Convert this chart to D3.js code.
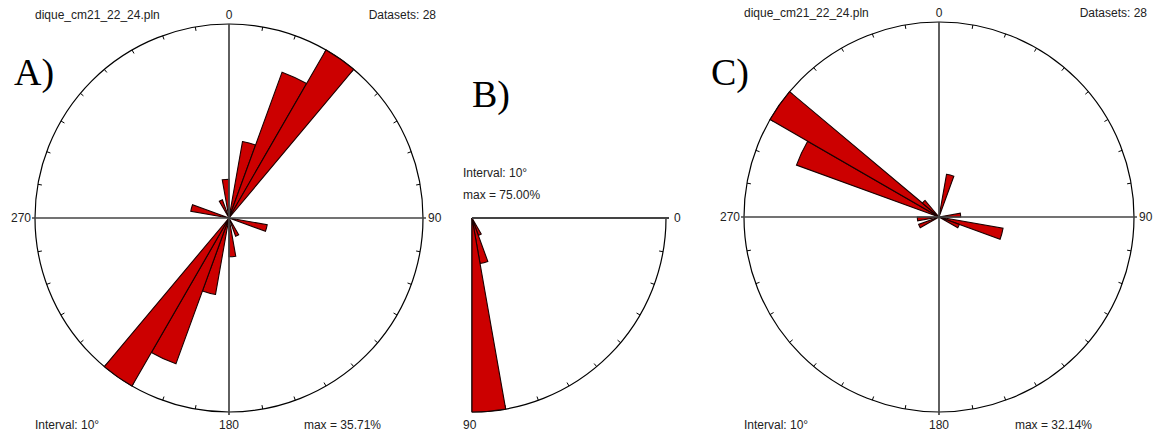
<!DOCTYPE html>
<html>
<head>
<meta charset="utf-8">
<script src="https://cdn.jsdelivr.net/npm/d3@7"></script>
<style>
  html, body { margin: 0; padding: 0; background: #fff; }
  svg { display: block; }
  .small { font-family: "Liberation Sans", Arial, sans-serif; font-size: 12px; fill: #222; }
  .big { font-family: "Liberation Serif", "Times New Roman", serif; font-size: 38px; fill: #000; }
</style>
</head>
<body>
<script>
// Rose diagrams of dyke orientations (10° sectors, 28 measurements)
const fileName = "dique_cm21_22_24.pln";
const nDatasets = 28;
const sectorWidth = 10;

// Strike rose A: measurements per 10° sector, sectors starting at 0°, 10°, ... 350°
const countsA = [0, 4, 8, 10, 0, 0, 0, 0, 0, 0,
                 2, 0, 0, 0, 0, 1, 0, 2, 0, 4,
                 8, 10, 0, 0, 0, 0, 0, 0, 2, 0,
                 0, 0, 0, 1, 0, 2];

// Dip rose B: measurements per 10° sector from 0° to 90°
const countsB = [0, 0, 0, 0, 0, 0, 2, 5, 21];

// Rose C: measurements per 10° sector, 0° .. 350°
const countsC = [0, 2, 0, 0, 0, 0, 0, 0, 1, 0,
                 3, 1, 0, 0, 0, 0, 0, 0, 0, 0,
                 0, 0, 0, 0, 1, 0, 1, 0, 0, 7,
                 9, 1, 0, 0, 0, 0];

const axisLabelsFull = ["0", "90", "180", "270"];
const axisLabelsQuarter = ["0", "90"];
const panelLetters = ["A)", "B)", "C)"];

const W = 1160, H = 437;
const svg = d3.select("body").append("svg")
  .attr("width", W).attr("height", H);
svg.append("rect").attr("width", W).attr("height", H).attr("fill", "#fff");

const BAR_FILL = "#cc0000";
const BAR_STROKE = "#1a0000";
const AXIS = "#444";

const fmt = d3.format(".2f");
const deg = d3.scaleLinear().domain([0, 360]).range([0, 2 * Math.PI]);

function toPct(counts) { return counts.map(c => c / nDatasets * 100); }

// Full-circle rose (angles clockwise from north)
function fullRose(cx, cy, R, counts) {
  const g = svg.append("g").attr("transform", `translate(${cx},${cy})`);
  const pct = toPct(counts);
  const maxPct = d3.max(pct);
  const r = d3.scaleLinear().domain([0, maxPct]).range([0, R]);
  const arc = d3.arc().innerRadius(0);

  // outer circle
  g.append("circle").attr("r", R).attr("fill", "none")
    .attr("stroke", "#000").attr("stroke-width", 1.2);

  // tick marks every 10°
  const ticks = d3.range(0, 360, sectorWidth).filter(a => a % 90 !== 0);
  g.selectAll("line.tick").data(ticks).join("line")
    .attr("x1", a => Math.sin(deg(a)) * R)
    .attr("y1", a => -Math.cos(deg(a)) * R)
    .attr("x2", a => Math.sin(deg(a)) * (R - 4))
    .attr("y2", a => -Math.cos(deg(a)) * (R - 4))
    .attr("stroke", "#000").attr("stroke-width", 1);

  // sectors
  const bars = pct.map((p, i) => ({ p, a0: i * sectorWidth, a1: (i + 1) * sectorWidth }))
    .filter(d => d.p > 0);
  g.selectAll("path.bar").data(bars).join("path")
    .attr("d", d => arc({ outerRadius: r(d.p), startAngle: deg(d.a0), endAngle: deg(d.a1) }))
    .attr("fill", BAR_FILL).attr("stroke", BAR_STROKE).attr("stroke-width", 1.1)
    .attr("stroke-linejoin", "miter");

  // cross axes
  g.append("line").attr("x1", -R - 3).attr("x2", R + 3).attr("y1", 0).attr("y2", 0)
    .attr("stroke", AXIS).attr("stroke-width", 1.7);
  g.append("line").attr("x1", 0).attr("x2", 0).attr("y1", -R).attr("y2", R + 3)
    .attr("stroke", AXIS).attr("stroke-width", 1.7);

  // axis labels
  g.append("text").attr("class", "small").attr("x", 0).attr("y", -R - 5)
    .attr("text-anchor", "middle").text(axisLabelsFull[0]);
  g.append("text").attr("class", "small").attr("x", R + 5).attr("y", 4)
    .attr("text-anchor", "start").text(axisLabelsFull[1]);
  g.append("text").attr("class", "small").attr("x", 0).attr("y", R + 17)
    .attr("text-anchor", "middle").text(axisLabelsFull[2]);
  g.append("text").attr("class", "small").attr("x", -R - 4).attr("y", 4)
    .attr("text-anchor", "end").text(axisLabelsFull[3]);

  // header & footer
  g.append("text").attr("class", "small").attr("x", -R).attr("y", -R - 5)
    .text(fileName);
  g.append("text").attr("class", "small").attr("x", R + 13).attr("y", -R - 5)
    .attr("text-anchor", "end").text(`Datasets: ${nDatasets}`);
  g.append("text").attr("class", "small").attr("x", -R).attr("y", R + 17)
    .text(`Interval: ${sectorWidth}°`);
  g.append("text").attr("class", "small").attr("x", R - 42).attr("y", R + 17)
    .attr("text-anchor", "end").text(`max = ${fmt(maxPct)}%`);
  return g;
}

// Quarter rose (0° to the east, 90° pointing down)
function quarterRose(cx, cy, R, counts) {
  const g = svg.append("g").attr("transform", `translate(${cx},${cy})`);
  const pct = toPct(counts);
  const maxPct = d3.max(pct);
  const r = d3.scaleLinear().domain([0, maxPct]).range([0, R]);
  const arc = d3.arc().innerRadius(0);
  const q = d => deg(90 + d); // dip angle -> arc angle

  // outer quarter arc
  g.append("path")
    .attr("d", d3.arc()({ innerRadius: R, outerRadius: R, startAngle: q(0), endAngle: q(90) }))
    .attr("fill", "none").attr("stroke", "#000").attr("stroke-width", 1.2);

  const ticks = d3.range(sectorWidth, 90, sectorWidth);
  g.selectAll("line.tick").data(ticks).join("line")
    .attr("x1", a => Math.sin(q(a)) * R)
    .attr("y1", a => -Math.cos(q(a)) * R)
    .attr("x2", a => Math.sin(q(a)) * (R - 4))
    .attr("y2", a => -Math.cos(q(a)) * (R - 4))
    .attr("stroke", "#000").attr("stroke-width", 1);

  g.append("line").attr("x1", 0).attr("x2", 0).attr("y1", 0).attr("y2", R)
    .attr("stroke", "#000").attr("stroke-width", 1.2);

  const bars = pct.map((p, i) => ({ p, a0: i * sectorWidth, a1: (i + 1) * sectorWidth }))
    .filter(d => d.p > 0);
  g.selectAll("path.bar").data(bars).join("path")
    .attr("d", d => arc({ outerRadius: r(d.p), startAngle: q(d.a0), endAngle: q(d.a1) }))
    .attr("fill", BAR_FILL).attr("stroke", BAR_STROKE).attr("stroke-width", 1.1);

  g.append("line").attr("x1", 0).attr("x2", R + 3).attr("y1", 0).attr("y2", 0)
    .attr("stroke", AXIS).attr("stroke-width", 1.9);

  g.append("text").attr("class", "small").attr("x", R + 8).attr("y", 4)
    .text(axisLabelsQuarter[0]);
  g.append("text").attr("class", "small").attr("x", -9).attr("y", R + 17)
    .text(axisLabelsQuarter[1]);
  g.append("text").attr("class", "small").attr("x", -9).attr("y", -41)
    .text(`Interval: ${sectorWidth}°`);
  g.append("text").attr("class", "small").attr("x", -9).attr("y", -19)
    .text(`max = ${fmt(maxPct)}%`);
  return g;
}

fullRose(229, 218, 194, countsA);
quarterRose(472, 218, 194, countsB);
fullRose(939, 217, 195, countsC);

// panel letters
svg.append("text").attr("class", "big").attr("x", 14).attr("y", 85).text(panelLetters[0]);
svg.append("text").attr("class", "big").attr("x", 472).attr("y", 107).text(panelLetters[1]);
svg.append("text").attr("class", "big").attr("x", 711).attr("y", 85).text(panelLetters[2]);
</script>
</body>
</html>
